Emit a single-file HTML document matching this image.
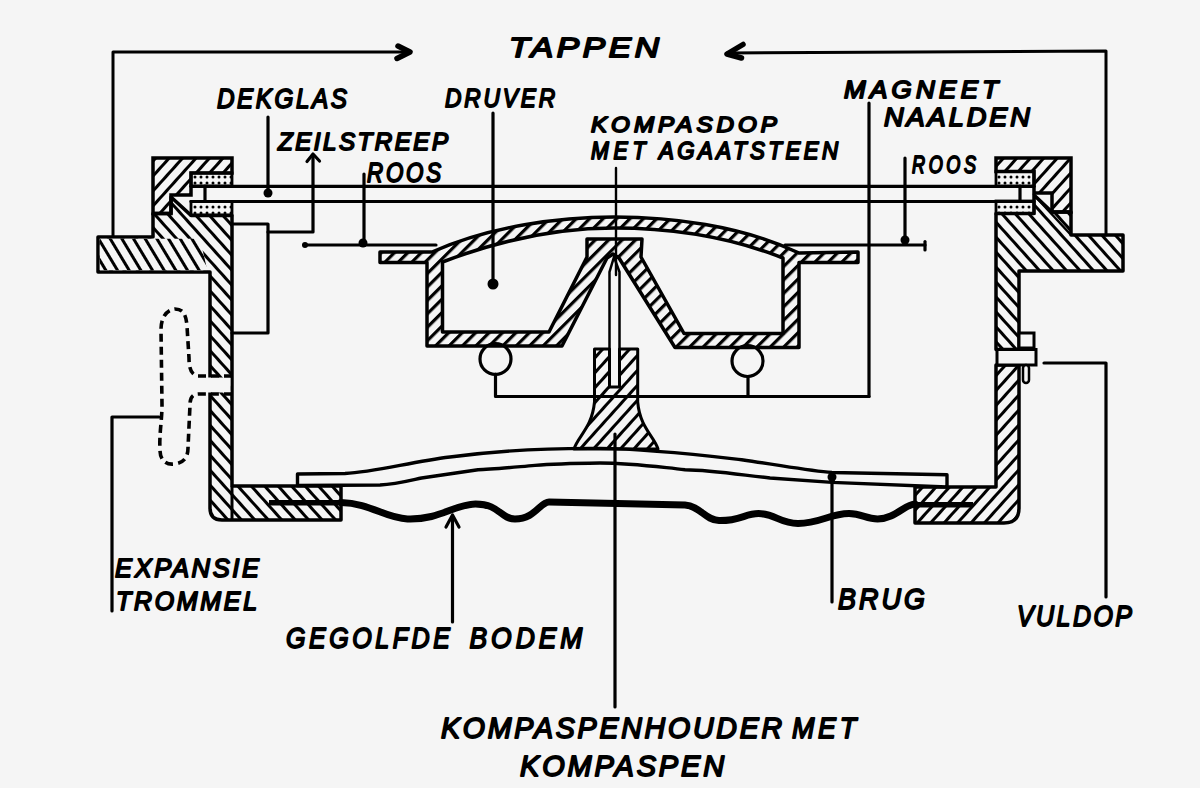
<!DOCTYPE html>
<html><head><meta charset="utf-8">
<style>
html,body{margin:0;padding:0;background:#f5f5f5;}
svg{display:block;}
text{font-family:"Liberation Sans",sans-serif;font-weight:normal;font-style:italic;fill:#000;stroke:#000;stroke-width:1.8;stroke-linejoin:round;}
</style></head>
<body>
<svg width="1200" height="788" viewBox="0 0 1200 788">
<defs>
<pattern id="hA" patternUnits="userSpaceOnUse" width="10" height="10" patternTransform="rotate(-42)"><rect x="0" y="0" width="3" height="10" fill="#000"/></pattern>
<pattern id="hF" patternUnits="userSpaceOnUse" width="10" height="10" patternTransform="rotate(-31)"><rect x="0" y="0" width="3" height="10" fill="#000"/></pattern>
<pattern id="hB" patternUnits="userSpaceOnUse" width="10" height="10" patternTransform="rotate(42)"><rect x="0" y="0" width="3" height="10" fill="#000"/></pattern>
<pattern id="hC" patternUnits="userSpaceOnUse" width="9.5" height="9.5" patternTransform="rotate(45)"><rect x="0" y="0" width="3.2" height="9.5" fill="#000"/></pattern>
<pattern id="dots" patternUnits="userSpaceOnUse" width="6" height="6"><circle cx="3" cy="3" r="1.5" fill="#000"/></pattern>
</defs>
<rect x="0" y="0" width="1200" height="788" fill="#f5f5f5"/>

<!-- TAPPEN bracket -->
<g fill="none" stroke="#000" stroke-width="3" stroke-linejoin="round" stroke-linecap="round">
<polyline points="113,236 113,52 410,52"/>
<polyline points="398,46 410,52 397,58.5" stroke-width="5.5"/>
<polyline points="1106,235 1106,51 727,53"/>
<polyline points="743,44.5 727,54 741.5,58" stroke-width="5.5"/>
</g>

<!-- LEFT BODY -->
<path d="M98,237 L153,237 L153,213.5 L171,213.5 L171,197 L191,215.4 L232,215.4 L232,486 L341,486 L341,520 L222,520 Q210,520 210,508 L210,272 L98,272 Z" fill="url(#hA)" stroke="#000" stroke-width="3.5" stroke-linejoin="round"/>
<path d="M99.8,238.8 L200,238.8 L207.3,270.2 L99.8,270.2 Z" fill="#f5f5f5"/>
<path d="M99.8,238.8 L200,238.8 L207.3,270.2 L99.8,270.2 Z" fill="url(#hF)"/>
<path d="M153,158 L232,158 L232,173 L191,173 L191,195 L171,195 L171,213.5 L153,213.5 Z" fill="url(#hB)" stroke="#000" stroke-width="3.5"/>

<!-- RIGHT BODY -->
<path d="M996,213.5 L1034,213.5 L1034,195 L1052,212 L1071,212 L1071,235 L1123,235 L1123,271 L1019,271 L1019,349.5 L996,349.5 Z" fill="url(#hA)" stroke="#000" stroke-width="3.5" stroke-linejoin="round"/>
<path d="M996,365 L1019,365 L1019,508 Q1019,523 1004,523 L915,523 L915,487 L996,487 Z" fill="url(#hB)" stroke="#000" stroke-width="3.5" stroke-linejoin="round"/>
<line x1="1034" y1="195" x2="1071" y2="235" stroke="#000" stroke-width="2.5"/>
<path d="M996,158 L1071,158 L1071,212 L1052,212 L1052,193 L1034,193 L1034,171.6 L996,171.6 Z" fill="url(#hB)" stroke="#000" stroke-width="3.5"/>

<!-- gaskets -->
<g fill="url(#dots)" stroke="#000" stroke-width="2.8">
<rect x="191" y="173" width="41" height="13"/>
<rect x="191" y="201.5" width="41" height="13.5"/>
<rect x="996" y="171.6" width="38" height="14.5"/>
<rect x="996" y="201" width="38" height="12.5"/>
</g>

<!-- left wall gap (expansie) -->
<rect x="206" y="377.5" width="24.5" height="15" fill="#f5f5f5"/>
<!-- vuldop -->
<rect x="997" y="349.5" width="39" height="15.5" fill="#f5f5f5" stroke="#000" stroke-width="3"/>
<rect x="1019" y="333" width="15" height="15" fill="#f5f5f5" stroke="#000" stroke-width="3"/>
<rect x="1023" y="365" width="6" height="18" rx="3" fill="#f5f5f5" stroke="#000" stroke-width="2.5"/>

<line x1="232" y1="486" x2="232" y2="520" stroke="#000" stroke-width="3"/>
<!-- bars in bottom plates -->
<rect x="269" y="500" width="72" height="5.5" fill="#000"/>
<rect x="915" y="502" width="58" height="5.5" fill="#000"/>

<!-- bridge -->
<path d="M297.5,474 L345,473.5 C375,472 410,462 450,457 C495,451 550,448 600,448.4 C650,449 700,455 741.6,459.7 C785,466 810,471 832,472.5 L947,474.7 L947,487 L832,482.4 C800,480 785,479 770,478 C735,474 710,470 685,469.7 C650,466 630,463 600,463 C560,463.5 545,464.5 535,465.4 C505,468 490,469.5 478,469.7 C455,473 435,476 421.6,478 C408,481 395,484.5 380,485 L297.5,485.5 Z" fill="#f5f5f5" stroke="#000" stroke-width="3.4" stroke-linejoin="round"/>
<!-- corrugated bottom -->
<path d="M341,502.5 C370,503 385,518 407.5,519 C440,520 455,504 475.5,504 C500,504 500,519 515,519 C535,519 540,502 549,502 L685,505 C700,506 705,520 719,520.6 C740,521 745,513.6 758.6,513.6 C775,513.6 780,523.5 798,523.5 C820,523.5 830,513.6 849,513.6 C862,513.6 866,519 877.6,519 C895,519 905,504 915,504" fill="none" stroke="#000" stroke-width="7" stroke-linecap="round" stroke-linejoin="round"/>

<!-- DRUVER -->
<path fill-rule="evenodd" fill="url(#hC)" stroke="#000" stroke-width="3.5" stroke-linejoin="round"
d="M380,252 L432,252 C490,226 560,217 614,217 C670,217 740,225 799,253 L858,252 L858,262.5 L799,262.5 L799,347.5 L675,347.5 L619,258 L613,254 L607,258 L562,346 L427,346 L427,262.5 L380,262.5 Z
M442.5,262 C500,240 560,228 614,228 C670,228 730,237 783,258 L783,333.5 L684,333.5 L641,257 L642,239 L587,239 L587,257 L549,332 L442.5,332 Z"/>
<!-- pen -->
<path d="M609.5,387 L609.5,272 L614,257 L619.5,272 L619.5,387" fill="#f5f5f5" stroke="#000" stroke-width="2.5"/>
<!-- pen holder -->
<path d="M594.5,349 L609.5,349 L609.5,387 L619.5,387 L619.5,349 L637.7,349 L637.7,402 C640,428 654,436 658,449 L574,449 C578,436 592,428 594.5,402 Z" fill="url(#hB)" stroke="#000" stroke-width="3" stroke-linejoin="round"/>

<!-- dashed drum -->
<g fill="none" stroke="#000" stroke-width="3.6" stroke-dasharray="8 5">
<path d="M232,376 L198,376 C191,375 189,368 189,358 L187,326 C186,314 183,309 175,309 C166,310 161,318 161,330 L162,405 C162,420 159,435 160,450 C160,460 166,465 174,464 C184,463 188,457 188,448 L190,405 C190,398 192,394 199,394 L232,394"/>
</g>

<g fill="none" stroke="#000" stroke-width="3.2" stroke-linecap="round" stroke-linejoin="round">
<!-- glass -->
<line x1="191" y1="186.3" x2="1034" y2="186.3"/>
<line x1="191" y1="201.5" x2="1034" y2="201.5"/>
<line x1="205" y1="186" x2="205" y2="201.5"/>
<line x1="1020" y1="186" x2="1020" y2="201.5"/>
<!-- inner left rect -->
<polyline points="232,224 268,224 268,333 232,333"/>
<!-- zeilstreep -->
<polyline points="268,232 313,232 313,155"/>
<polyline points="307,161.5 313,154 319.5,161" stroke-width="3.2"/>
<!-- leaders -->
<line x1="268" y1="117" x2="268" y2="193"/>
<line x1="493" y1="113" x2="493" y2="284"/>
<line x1="616" y1="168" x2="616" y2="275" stroke-width="2.4"/>
<line x1="364" y1="174" x2="364" y2="244"/>
<line x1="905" y1="158" x2="905" y2="240"/>
<line x1="869" y1="103" x2="869" y2="396.5"/>
<!-- rose card -->
<line x1="304" y1="245" x2="436" y2="245"/>

<line x1="785" y1="245" x2="925" y2="245"/>
<line x1="925" y1="241.5" x2="925" y2="250"/>
<!-- magnets frame -->
<polyline points="495.5,374 495.5,396.5 869,396.5"/>
<line x1="748" y1="377" x2="748" y2="396.5"/>
<circle cx="495.5" cy="359" r="15.5"/>
<circle cx="747.5" cy="361" r="15.5"/>
<!-- expansie leader -->
<polyline points="159,417 112,417 112,611"/>
<!-- brug leader -->
<line x1="832" y1="478" x2="832" y2="602"/>
<!-- gegolfde leader -->
<line x1="452.5" y1="516" x2="452.5" y2="622"/>
<polyline points="446,527 452.5,515 459,527" stroke-width="3.2"/>
<!-- kompaspen leader -->
<line x1="615" y1="434" x2="615" y2="707"/>
<!-- vuldop leader -->
<polyline points="1044,363 1106,363 1106,597"/>
</g>
<g fill="#000">
<circle cx="268" cy="193" r="4.5"/>
<circle cx="305" cy="245" r="3"/>
<circle cx="493" cy="284" r="5.5"/>
<circle cx="363" cy="243" r="4.5"/>
<circle cx="905" cy="240" r="4.5"/>
<circle cx="832" cy="477" r="4.5"/>
</g>

<!-- TEXT -->
<g class="lbl">
<text transform="translate(509.00,57.00) scale(1.200,1)" font-size="27.96" textLength="125.01" lengthAdjust="spacing">TAPPEN</text>
<text transform="translate(217.00,108.00) scale(0.876,1)" font-size="27.73" textLength="148.34" lengthAdjust="spacing">DEKGLAS</text>
<text transform="translate(445.00,107.00) scale(0.862,1)" font-size="26.35" textLength="127.64" lengthAdjust="spacing">DRUVER</text>
<text transform="translate(844.00,98.00) scale(1.095,1)" font-size="23.67" textLength="140.70" lengthAdjust="spacing">MAGNEET</text>
<text transform="translate(884.00,126.00) scale(1.030,1)" font-size="26.35" textLength="141.69" lengthAdjust="spacing">NAALDEN</text>
<text transform="translate(278.00,150.00) scale(0.993,1)" font-size="24.37" textLength="171.26" lengthAdjust="spacing">ZEILSTREEP</text>
<text transform="translate(367.00,182.00) scale(0.825,1)" font-size="27.04" textLength="89.71" lengthAdjust="spacing">ROOS</text>
<text transform="translate(591.00,132.00) scale(1.081,1)" font-size="22.31" textLength="172.00" lengthAdjust="spacing">KOMPASDOP</text>
<text transform="translate(591.00,159.00) scale(0.902,1)" font-size="23.67" textLength="60.44" lengthAdjust="spacing">MET</text>
<text transform="translate(659.00,159.00) scale(0.940,1)" font-size="23.67" textLength="190.52" lengthAdjust="spacing">AGAATSTEEN</text>
<text transform="translate(912.00,173.00) scale(0.763,1)" font-size="23.67" textLength="83.87" lengthAdjust="spacing">ROOS</text>
<text transform="translate(115.00,577.00) scale(0.968,1)" font-size="26.35" textLength="148.76" lengthAdjust="spacing">EXPANSIE</text>
<text transform="translate(116.00,610.00) scale(0.945,1)" font-size="26.35" textLength="149.25" lengthAdjust="spacing">TROMMEL</text>
<text transform="translate(286.00,647.50) scale(0.870,1)" font-size="28.78" textLength="188.44" lengthAdjust="spacing">GEGOLFDE</text>
<text transform="translate(469.50,647.50) scale(0.917,1)" font-size="28.78" textLength="123.06" lengthAdjust="spacing">BODEM</text>
<text transform="translate(838.00,609.00) scale(0.920,1)" font-size="29.23" textLength="94.61" lengthAdjust="spacing">BRUG</text>
<text transform="translate(1017.00,626.00) scale(0.854,1)" font-size="29.23" textLength="134.69" lengthAdjust="spacing">VULDOP</text>
<text transform="translate(441.00,737.50) scale(0.976,1)" font-size="29.23" textLength="349.48" lengthAdjust="spacing">KOMPASPENHOUDER</text>
<text transform="translate(792.00,738.00) scale(0.920,1)" font-size="29.23" textLength="69.65" lengthAdjust="spacing">MET</text>
<text transform="translate(520.00,776.00) scale(0.988,1)" font-size="29.23" textLength="206.47" lengthAdjust="spacing">KOMPASPEN</text>
</g>
</svg>
</body></html>
